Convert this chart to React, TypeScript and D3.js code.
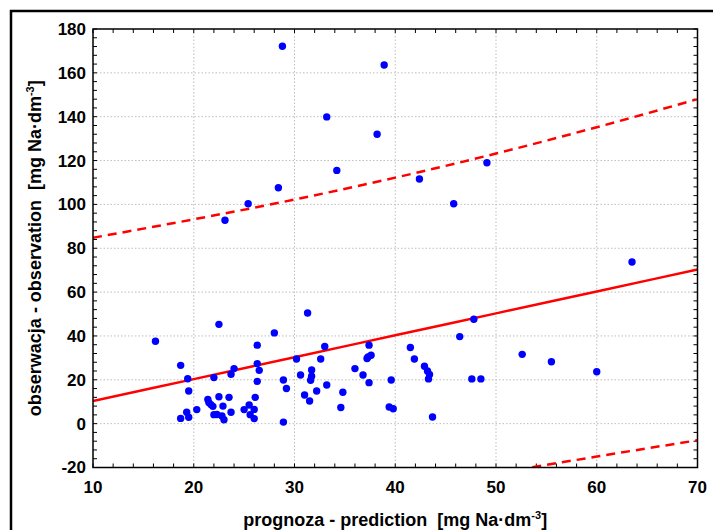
import React from 'react';
import * as d3 from 'd3';

// prognoza (x) vs obserwacja (y), mg Na/dm3
const predX = [
  28.8, 38.9, 33.2, 38.2, 34.2, 28.4, 25.4, 23.1, 42.4, 45.8, 49.1, 63.5,
  16.2, 22.5, 28.0, 31.3, 18.7, 19.4, 19.5, 26.3, 26.3, 26.5, 26.3, 24.0, 23.7, 22.0,
  28.9, 29.2, 30.2, 30.6, 31.7, 31.7, 31.6, 32.6, 33.0, 33.2, 31.0, 31.5, 32.2, 28.9,
  18.7, 19.3, 19.5, 20.3, 21.4, 21.5, 21.7, 21.9, 22.5, 22.9, 23.5, 23.7, 22.0, 22.3,
  22.8, 23.0, 25.0, 25.5, 25.6, 26.0, 26.0, 26.1,
  34.8, 34.6, 36.0, 36.8, 37.4, 37.2, 37.3, 37.6, 37.4, 39.6, 39.4, 39.8, 41.5, 41.9,
  42.9, 43.2, 43.4, 43.3, 43.7, 46.4, 47.8, 47.6, 48.5, 52.6, 55.5, 60.0,
];
const obsY = [
  172.1, 163.6, 139.9, 132.0, 115.5, 107.6, 100.3, 92.8, 111.6, 100.3, 119.0, 73.7,
  37.6, 45.3, 41.4, 50.5, 26.6, 20.5, 14.9, 35.8, 27.4, 24.3, 19.3, 25.1, 22.5, 21.0,
  19.9, 16.0, 29.5, 22.2, 24.5, 21.6, 19.8, 29.5, 35.2, 17.6, 13.1, 10.3, 14.9, 0.7,
  2.4, 5.2, 2.9, 6.4, 11.0, 9.6, 8.7, 7.9, 12.3, 8.0, 12.0, 5.2, 4.1, 4.2,
  3.5, 1.8, 6.4, 8.5, 4.1, 6.5, 2.3, 12.0,
  14.3, 7.4, 25.1, 22.2, 35.8, 29.7, 30.4, 31.2, 18.7, 19.9, 7.6, 6.8, 34.7, 29.5,
  26.2, 24.0, 22.4, 20.4, 3.0, 39.7, 47.6, 20.4, 20.4, 31.6, 28.2, 23.7,
];

// regression line and prediction band
const bandX = [10, 20, 30, 40, 50, 60, 70];
const fitY = [10.3, 20.3, 30.3, 40.3, 50.3, 60.3, 70.3];
const upperY = [84.8, 93.2, 102.2, 112.2, 123.2, 135.2, 148.0];
const lowerY = [-64.2, -52.6, -41.6, -31.6, -22.8, -15.0, -7.6];

const xTicks = [10, 20, 30, 40, 50, 60, 70];
const yTicks = [-20, 0, 20, 40, 60, 80, 100, 120, 140, 160, 180];

const xTitle = 'prognoza - prediction \u00a0[mg Na·dm';
const yTitle = 'obserwacja - observation \u00a0[mg Na·dm';

const W = 713;
const H = 530;
const plot = { left: 93, right: 697.5, top: 29, bottom: 467.5 };
const font = '"Liberation Sans", Arial, sans-serif';

export default function App() {
  const x = d3.scaleLinear().domain([10, 70]).range([plot.left, plot.right]);
  const y = d3.scaleLinear().domain([-20, 180]).range([plot.bottom, plot.top]);

  const line = (ys: number[]) =>
    d3.line<number>()
      .x((_, i) => x(bandX[i]))
      .y(d => y(d))
      .curve(d3.curveMonotoneX)(ys) || '';

  const xMinor = d3.range(10, 70.01, 2);
  const yMinor = d3.range(-20, 180.01, 4);
  const tl = 4;

  return (
    <svg width={W} height={H} style={{ position: 'absolute', left: 0, top: 0 }}
      fontFamily={font} fontWeight="bold">
      <rect x={0} y={0} width={W} height={H} fill="white" />
      <rect x={11} y={11} width={W + 20} height={H + 20} fill="none" stroke="black" strokeWidth={2.5} />
      <defs>
        <clipPath id="clip">
          <rect x={plot.left} y={plot.top} width={plot.right - plot.left} height={plot.bottom - plot.top} />
        </clipPath>
      </defs>

      {/* grid */}
      <g stroke="#bdbdbd" strokeWidth={1} strokeDasharray="1.5,2">
        {xTicks.slice(1, -1).map(t => (
          <line key={'gx' + t} x1={x(t)} x2={x(t)} y1={plot.top} y2={plot.bottom} />
        ))}
        {yTicks.slice(1, -1).map(t => (
          <line key={'gy' + t} x1={plot.left} x2={plot.right} y1={y(t)} y2={y(t)} />
        ))}
      </g>

      {/* minor ticks, all four sides, inward */}
      <g stroke="black" strokeWidth={1}>
        {xMinor.map(t => (
          <g key={'tx' + t}>
            <line x1={x(t)} x2={x(t)} y1={plot.bottom} y2={plot.bottom - tl} />
            <line x1={x(t)} x2={x(t)} y1={plot.top} y2={plot.top + tl} />
          </g>
        ))}
        {yMinor.map(t => (
          <g key={'ty' + t}>
            <line x1={plot.left} x2={plot.left + tl} y1={y(t)} y2={y(t)} />
            <line x1={plot.right} x2={plot.right - tl} y1={y(t)} y2={y(t)} />
          </g>
        ))}
      </g>

      <g clipPath="url(#clip)" fill="none" stroke="#ff0000" strokeWidth={2.5}>
        <path d={line(fitY)} />
        <path d={line(upperY)} strokeDasharray="9,6" />
        <path d={line(lowerY)} strokeDasharray="9,6" />
      </g>

      <g fill="#0000ff">
        {predX.map((v, i) => (
          <circle key={i} cx={x(v)} cy={y(obsY[i])} r={3.7} />
        ))}
      </g>

      <rect x={plot.left} y={plot.top} width={plot.right - plot.left} height={plot.bottom - plot.top}
        fill="none" stroke="black" strokeWidth={1.5} />

      <g fontSize={17} fill="black">
        {xTicks.map(t => (
          <text key={'lx' + t} x={x(t)} y={493} textAnchor="middle">{t}</text>
        ))}
        {yTicks.map(t => (
          <text key={'ly' + t} x={86} y={y(t)} dy="0.35em" textAnchor="end">{t}</text>
        ))}
      </g>

      <text x={(plot.left + plot.right) / 2} y={526} textAnchor="middle" fontSize={18}>
        {xTitle}<tspan dy={-7} fontSize={11}>-3</tspan><tspan dy={7}>]</tspan>
      </text>
      <text transform={`translate(41,${(plot.top + plot.bottom) / 2}) rotate(-90)`} textAnchor="middle" fontSize={18}>
        {yTitle}<tspan dy={-7} fontSize={11}>-3</tspan><tspan dy={7}>]</tspan>
      </text>
    </svg>
  );
}
